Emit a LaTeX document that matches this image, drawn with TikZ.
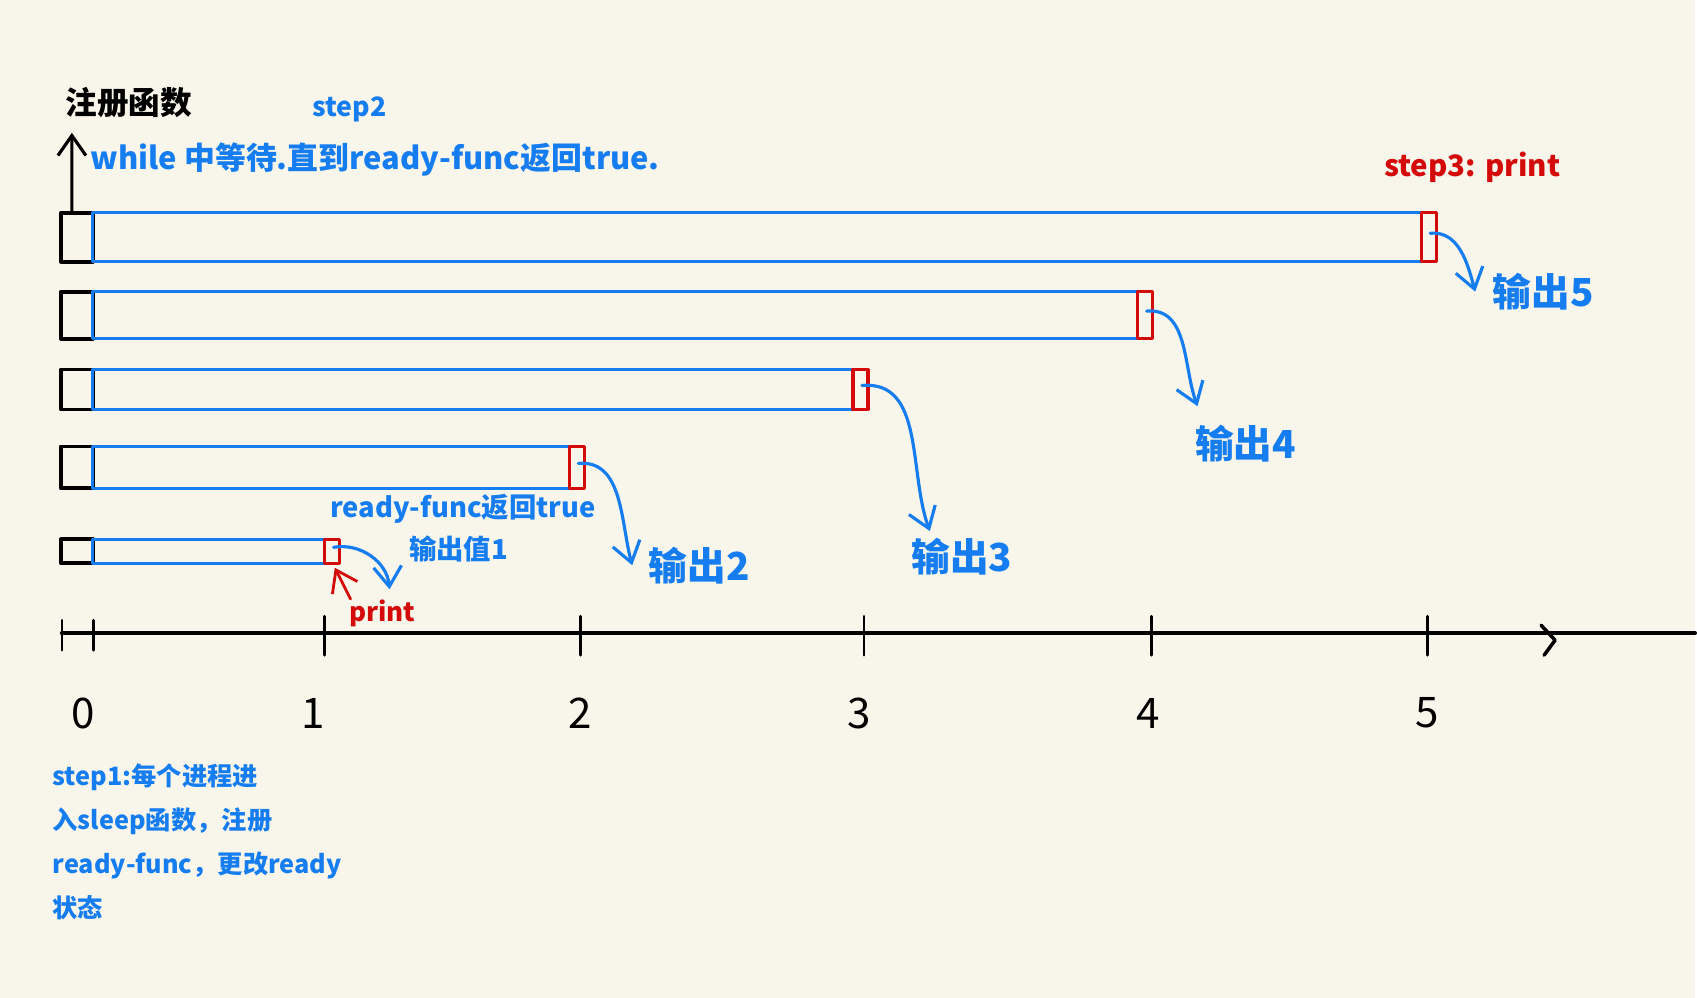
\documentclass[tikz,border=0pt]{standalone}
\usepackage{fontspec}
\usepackage{xcolor}
\usetikzlibrary{arrows.meta}
\newfontfamily\cjk{Noto Sans CJK SC}
\definecolor{paper}{RGB}{248,246,234}
\definecolor{inkblue}{RGB}{22,125,240}
\definecolor{inkred}{RGB}{212,10,10}

\begin{document}
\begin{tikzpicture}[x=0.1mm, y=-0.1mm, >={Straight Barb[length=2mm,width=2.8mm]},
		line cap=round, line join=round,
		note/.style={font=\cjk\bfseries\fontsize{8}{10}\selectfont, inner sep=0pt, anchor=west},
		bluenote/.style={note, text=inkblue},
		rednote/.style={note, text=inkred},
		bignote/.style={bluenote, font=\cjk\bfseries\fontsize{11}{13}\selectfont},
		flow/.style={->, draw=inkblue, line width=0.9pt}]
		
		% paper
		\fill[paper] (0,0) rectangle (1697,999);
		
		% time axis
		\coordinate (ax0) at (62,634);
		\coordinate (ax1) at (1697,634);
		\draw[line width=1.2pt] (ax0) -- (ax1);
		\foreach \x in {62,94}
		\draw[line width=0.8pt] (\x,621) -- (\x,651);
		\foreach \x in {325,581,865,1153,1429}
		\draw[line width=0.8pt] (\x,617) -- (\x,656);
		\draw[line width=1pt] (1543,626) -- (1557,641) -- (1546,656);
		
		% time labels
		\foreach \x/\t in {83/0,314/1,581/2,860/3,1150/4,1429/5}
		\node[font=\cjk\fontsize{12}{14}\selectfont, inner sep=0pt] (t\t) at (\x,714) {\t};
		
		% one bar per process: register box, waiting part, print box
		\foreach \i/\yt/\yb/\xe in {1/213/262/1423, 2/292/339/1139, 3/370/410/854, 4/447/489/570, 5/540/564/325} {
			\draw[line width=1.1pt] (61,\yt) rectangle (93,\yb);
			\draw[inkblue, line width=0.9pt] (93,\yt) rectangle (\xe,\yb);
			\draw[inkred, line width=0.9pt] (\xe,\yt) rectangle (\xe+15,\yb);
			\coordinate (k\i) at (72,\yt);
			\coordinate (p\i) at (\xe+9,{(\yt+\yb)/2-4});
			\coordinate (b\i) at (\xe+8,\yb);
		}
		
		% texts on top
		\node[note, font=\cjk\bfseries\fontsize{9}{11}\selectfont] (reg) at (65,103) {注册函数};
		\node[bluenote, font=\cjk\bfseries\fontsize{7.6}{9}\selectfont] (s2) at (312,110) {step2};
		\node[bluenote, font=\cjk\bfseries\fontsize{8.8}{11}\selectfont] (wait) at (90,160) {while 中等待.直到ready-func返回true.};
		\node[rednote, font=\cjk\bfseries\fontsize{8.4}{10}\selectfont] (s3) at (1385,168) {step3: print};
		\draw[->, line width=0.9pt] (k1) -- ([xshift=0.7mm,yshift=-1.4mm]reg.south west);
		
		% outputs
		\node[bignote] (out5) at (1494,292) {输出5};
		\node[bignote] (out4) at (1196,444) {输出4};
		\node[bignote] (out3) at (912,557) {输出3};
		\node[bignote] (out2) at (649,566) {输出2};
		\coordinate (c5) at (390,590);
		
		\draw[flow] (p1) to[out=5, in=105] ([xshift=-1.7mm]out5.west);
		\draw[flow] (p2) to[out=5, in=110] ([xshift=0.3mm,yshift=1.8mm]out4.north west);
		\draw[flow] (p3) to[out=5, in=110] ([xshift=1.9mm,yshift=0.6mm]out3.north west);
		\draw[flow] (p4) to[out=5, in=105] ([xshift=-1.6mm]out2.west);
		\draw[flow] (p5) to[out=10, in=95] (c5);
		
		% first bar notes
		\node[bluenote, font=\cjk\bfseries\fontsize{7.8}{9}\selectfont] (rf) at (330,509) {ready-func返回true};
		\node[bluenote, font=\cjk\bfseries\fontsize{7.8}{9}\selectfont] (v1) at (409,550) {输出值1};
		\node[rednote, font=\cjk\bfseries\fontsize{7.4}{9}\selectfont] (prt) at (349,614) {print};
		\draw[->, inkred, line width=0.8pt, shorten >=0.5mm] ([xshift=0.2mm]prt.north west) -- (b5);
		
		% step1
		\node[bluenote, font=\cjk\bfseries\fontsize{7.2}{12.5}\selectfont, align=left, anchor=north west] (s1) at (52,764)
		{step1:每个进程进\\入sleep函数，注册\\ready-func，更改ready\\状态};
		
	\end{tikzpicture}
\end{document}
